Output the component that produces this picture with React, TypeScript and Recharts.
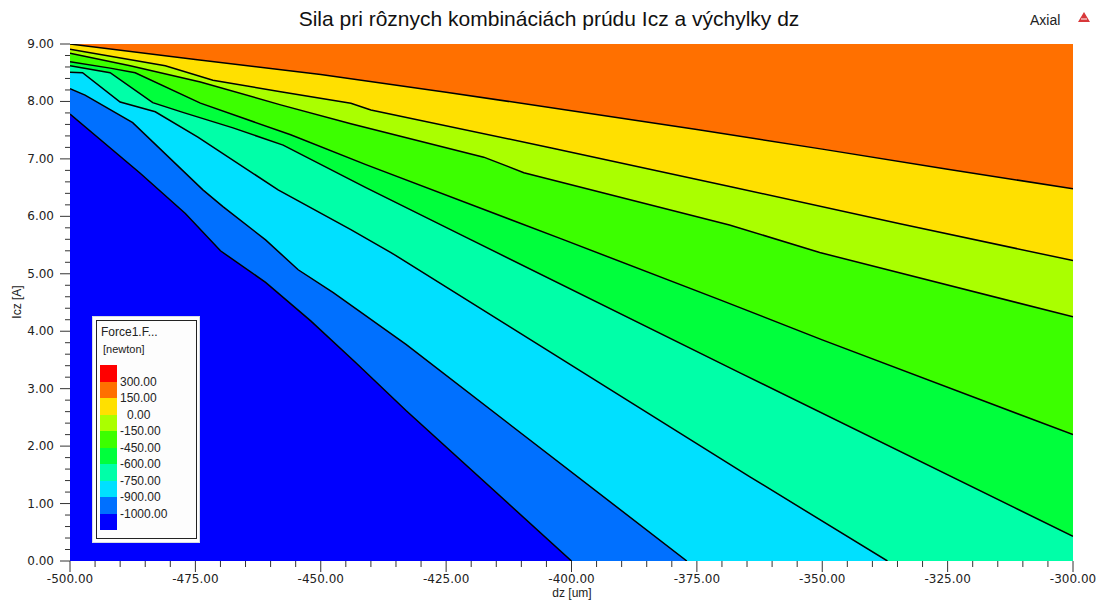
import { ComposedChart, Area, Line, XAxis, YAxis } from 'recharts'

document.body.style.margin = '0'

// contour lines: [dz, Icz]
const topEdge = [[-500, 9], [-300, 9]]
const line150 = [[-500, 9.0], [-475, 8.73], [-450, 8.47], [-425, 8.16], [-400, 7.84], [-375, 7.51], [-350, 7.17], [-325, 6.82], [-300, 6.48]]
const line0 = [[-500, 8.91], [-481, 8.62], [-471.5, 8.37], [-458, 8.17], [-444, 7.97], [-440, 7.85], [-404, 7.19], [-368, 6.51], [-334.5, 5.87], [-300, 5.23]]
const lineM150 = [[-500, 8.84], [-488, 8.62], [-474, 8.34], [-458, 7.94], [-444, 7.61], [-417.5, 7.03], [-409.5, 6.76], [-368.5, 5.85], [-350.5, 5.37], [-300, 4.25]]
const lineM450 = [[-500, 8.69], [-492, 8.58], [-487, 8.5], [-474, 7.97], [-456, 7.42], [-441, 6.9], [-401.5, 5.59], [-370.5, 4.55], [-350, 3.85], [-300, 2.2]]
const lineM600 = [[-500, 8.62], [-492, 8.5], [-483.5, 7.98], [-477.5, 7.81], [-467.5, 7.54], [-457.5, 7.24], [-441, 6.5], [-420, 5.59], [-366.5, 3.28], [-300, 0.43]]
const lineM750 = [[-500, 8.51], [-497.5, 8.5], [-490, 7.99], [-483, 7.82], [-474.5, 7.38], [-458.5, 6.46], [-444, 5.77], [-436, 5.37], [-364.5, 1.47], [-337, 0]]
const lineM900 = [[-500, 8.22], [-497, 8.11], [-487.5, 7.63], [-473.5, 6.46], [-469.5, 6.17], [-461, 5.59], [-454.5, 5.07], [-447.5, 4.67], [-433, 3.77], [-377, 0]]
const lineM1000 = [[-500, 7.78], [-486, 6.75], [-477, 6.05], [-470, 5.4], [-461, 4.85], [-452, 4.18], [-443, 3.45], [-433, 2.62], [-400, 0]]

const bandColors = ['#FF7000', '#FFE000', '#AAFF00', '#3CFF00', '#00FF3C', '#00FFA8', '#00E0FF', '#0070FF', '#0000FF']
const bandTops = [topEdge, line150, line0, lineM150, lineM450, lineM600, lineM750, lineM900, lineM1000]
const contourLines = [line150, line0, lineM150, lineM450, lineM600, lineM750, lineM900, lineM1000]

const legendColors = ['#FF0000', '#FF7000', '#FFE000', '#AAFF00', '#3CFF00', '#00FF3C', '#00FFA8', '#00E0FF', '#0070FF', '#0000FF']
const legendLabels = ['300.00', '150.00', '0.00', '-150.00', '-450.00', '-600.00', '-750.00', '-900.00', '-1000.00']

const xMajor = [-500, -475, -450, -425, -400, -375, -350, -325, -300]
const yMajor = [0, 1, 2, 3, 4, 5, 6, 7, 8, 9]

const xTicks: number[] = []
for (let i = 0; i <= 40; i++) xTicks.push(-500 + i * 5)
const yTicks: number[] = []
for (let i = 0; i <= 45; i++) yTicks.push(i / 5)

const toPts = (arr: number[][]) => arr.map(([x, y]) => ({ x, y }))

const tickFont = '"DejaVu Sans", Verdana, sans-serif'

function YTick({ x, y, payload }: any) {
  const v = payload.value
  const major = yMajor.includes(v)
  return (
    <g>
      <line x1={x - (major ? 10 : 5)} x2={x} y1={y} y2={y} stroke="#333" />
      {major && (
        <text x={x - 16} y={y + 4} textAnchor="end" fontSize={12} fontFamily={tickFont} fill="#222">
          {v.toFixed(2)}
        </text>
      )}
    </g>
  )
}

function XTick({ x, y, payload }: any) {
  const v = payload.value
  const major = xMajor.includes(v)
  return (
    <g>
      <line x1={x} x2={x} y1={y} y2={y + (major ? 11 : 6)} stroke="#333" />
      {major && (
        <text x={x} y={y + 22} textAnchor="middle" fontSize={12} fontFamily={tickFont} fill="#222">
          {v.toFixed(2)}
        </text>
      )}
    </g>
  )
}

export default function App() {
  return (
    <div style={{ position: 'relative', width: 1098, height: 602, background: '#fff', fontFamily: '"Liberation Sans", Arial, sans-serif' }}>
      <ComposedChart width={1098} height={602} margin={{ top: 44, right: 25, bottom: 0, left: 0 }}>
        <XAxis
          type="number"
          dataKey="x"
          domain={[-500, -300]}
          ticks={xTicks}
          interval={0}
          tickSize={0}
          tickMargin={0}
          tick={<XTick />}
          axisLine={false}
          height={41}
          allowDataOverflow
        />
        <YAxis
          type="number"
          dataKey="y"
          domain={[0, 9]}
          ticks={yTicks}
          interval={0}
          tickSize={0}
          tickMargin={0}
          tick={<YTick />}
          axisLine={false}
          width={70}
          allowDataOverflow
        />
        {bandTops.map((d, i) => (
          <Area
            key={'band' + i}
            data={toPts(d)}
            dataKey="y"
            type="linear"
            baseValue={0}
            fill={bandColors[i]}
            fillOpacity={1}
            stroke="none"
            isAnimationActive={false}
          />
        ))}
        {contourLines.map((d, i) => (
          <Line
            key={'line' + i}
            data={toPts(d)}
            dataKey="y"
            type="linear"
            stroke="#000"
            strokeWidth={1.5}
            dot={false}
            activeDot={false}
            isAnimationActive={false}
          />
        ))}
      </ComposedChart>

      <div style={{ position: 'absolute', left: 0, width: 1098, top: 7, textAlign: 'center', fontSize: 21, color: '#111' }}>
        Sila pri rôznych kombináciách prúdu Icz a výchylky dz
      </div>
      <div style={{ position: 'absolute', left: 1030, top: 12, fontSize: 14, color: '#222' }}>Axial</div>
      <svg style={{ position: 'absolute', left: 1078, top: 12 }} width={12} height={11}>
        <polygon points="6,0 12,10 0,10" fill="#d8383a" />
        <line x1={3} y1={7} x2={9} y2={7} stroke="#fff" strokeWidth={1} />
      </svg>
      <div style={{ position: 'absolute', left: 572, top: 586, transform: 'translateX(-50%)', fontSize: 12, color: '#222' }}>dz [um]</div>
      <div style={{ position: 'absolute', left: 17, top: 302, transform: 'translate(-50%, -50%) rotate(-90deg)', fontSize: 12, color: '#222', whiteSpace: 'nowrap' }}>
        Icz [A]
      </div>

      {/* colour legend */}
      <div style={{ position: 'absolute', left: 92, top: 316, width: 108, height: 227, background: '#fdfdfd', border: '1px solid #d4dae4', boxSizing: 'border-box' }} />
      <div style={{ position: 'absolute', left: 96, top: 320, width: 101, height: 219, border: '1.5px solid #222', boxSizing: 'border-box' }} />
      <div style={{ position: 'absolute', left: 101, top: 325, fontSize: 12, color: '#222' }}>Force1.F...</div>
      <div style={{ position: 'absolute', left: 103, top: 343, fontSize: 11, color: '#222' }}>[newton]</div>
      {legendColors.map((c, i) => (
        <div key={c} style={{ position: 'absolute', left: 100, top: 365 + i * 16.5, width: 17, height: 16.5, background: c }} />
      ))}
      {legendLabels.map((t, i) => (
        <div
          key={t}
          style={{ position: 'absolute', left: t === '0.00' ? 127 : 120, top: 381.5 + i * 16.5 - 8, fontSize: 12, lineHeight: '16px', color: '#222' }}
        >
          {t}
        </div>
      ))}
    </div>
  )
}
